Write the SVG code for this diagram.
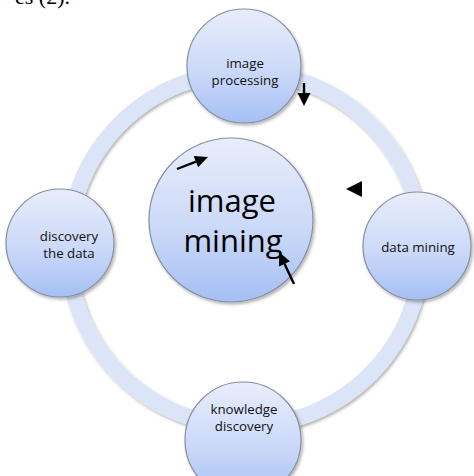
<svg xmlns="http://www.w3.org/2000/svg" width="474" height="476" viewBox="0 0 474 476">
<defs>
<linearGradient id="g" x1="0" y1="0" x2="0" y2="1">
<stop offset="0" stop-color="#e8edfb"/>
<stop offset="0.55" stop-color="#cbd9f8"/>
<stop offset="1" stop-color="#a5bff4"/>
</linearGradient>
<filter id="sh" x="-20%" y="-20%" width="140%" height="140%">
<feDropShadow dx="1.5" dy="2" stdDeviation="1.5" flood-color="#000" flood-opacity="0.3"/>
</filter>
</defs>
<style>
.node{fill:url(#g);stroke:#8590a0;stroke-width:1.2;filter:url(#sh)}
.t{font-family:"Open Sans","Noto Sans",sans-serif;font-size:13.3px;fill:#111;text-anchor:middle}
.big{font-family:"Open Sans","Noto Sans",sans-serif;font-size:31px;fill:#000;text-anchor:middle}
.ring{fill:none;stroke:#dce5f8;stroke-width:16;filter:url(#sh)}
.arr{stroke:#000;stroke-width:2.4;fill:none}
.head{fill:#000}
</style>
<rect width="474" height="476" fill="#fff"/>
<text x="70" y="4" font-family="Liberation Serif,serif" font-size="22" text-anchor="end" fill="#000">es (2).</text>
<g id="connectors">
<circle class="ring" cx="245" cy="249" r="177"/>
</g>
<g id="image-processing">
<circle class="node" cx="244" cy="66" r="57"/>
<text class="t" x="245" y="68">image</text>
<text class="t" x="245" y="85">processing</text>
</g>
<g id="image-mining">
<circle class="node" cx="231" cy="220" r="82"/>
<text class="big" x="232" y="212">image</text>
<text class="big" x="233" y="252">mining</text>
</g>
<g id="discovery-the-data">
<circle class="node" cx="60" cy="243" r="54"/>
<text class="t" x="69" y="241">discovery</text>
<text class="t" x="69" y="258">the data</text>
</g>
<g id="data-mining">
<circle class="node" cx="417" cy="246" r="54"/>
<text class="t" x="418" y="252">data mining</text>
</g>
<g id="knowledge-discovery">
<circle class="node" cx="243" cy="440" r="58"/>
<text class="t" x="244" y="414">knowledge</text>
<text class="t" x="244" y="431">discovery</text>
</g>
<g id="arrows">
<line class="arr" x1="304" y1="83" x2="304" y2="94"/>
<path class="head" d="M304,106 L297.5,93 L310.5,93 Z"/>
<line class="arr" x1="177" y1="169" x2="196" y2="161.7"/>
<path class="head" d="M208,157 L198.1,167.3 L193.7,156.1 Z"/>
<line class="arr" x1="294" y1="284" x2="284.5" y2="263.8"/>
<path class="head" d="M279,252 L289.9,261.2 L279.1,266.4 Z"/>
<path class="head" d="M346,189 L362,181 L362,197 Z"/>
</g>
</svg>
